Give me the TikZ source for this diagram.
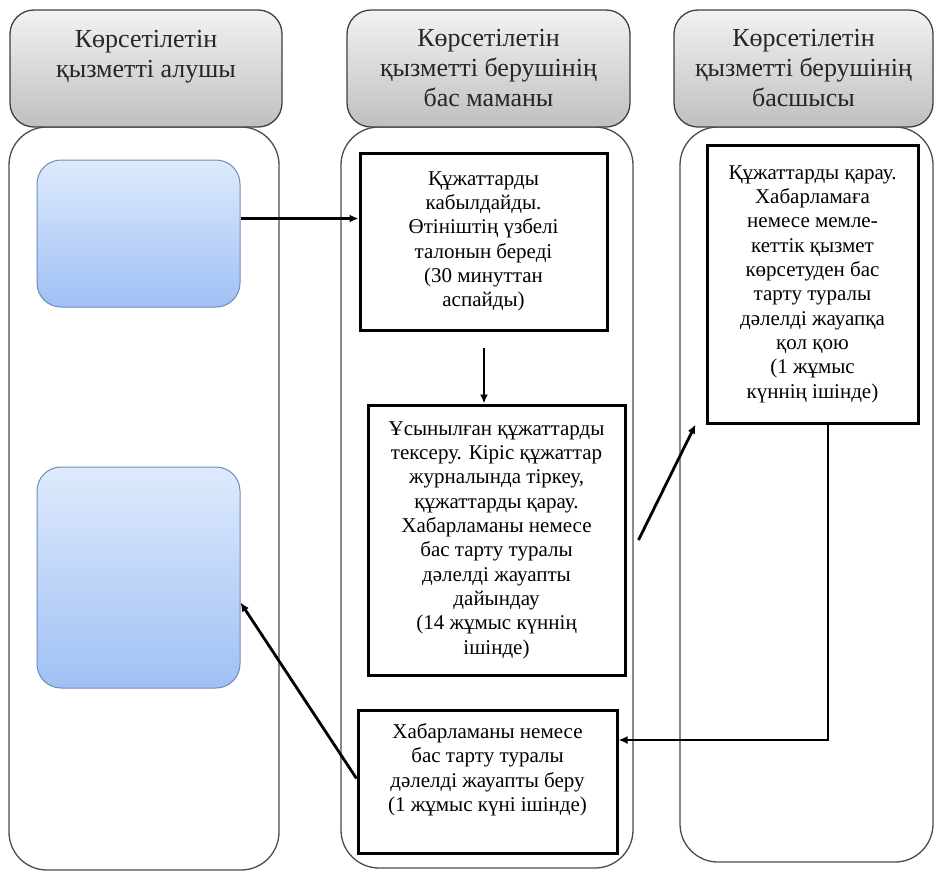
\documentclass[tikz,border=0pt]{standalone}
\usepackage{fontspec}
\setmainfont{Liberation Serif}
\newfontfamily\kzserif{Liberation Serif}
\usetikzlibrary{arrows.meta}
\definecolor{clienttop}{RGB}{222,234,252}
\definecolor{clientbottom}{RGB}{160,192,244}
\definecolor{clientline}{RGB}{110,140,190}
\begin{document}
\begin{tikzpicture}[x=1pt,y=-1pt]
		\tikzstyle{lane}=[rectangle,rounded corners=38pt,draw=black!70,line width=1.3pt,fill=white]
		\tikzstyle{header}=[rectangle,rounded corners=24pt,draw=black!75,line width=1.3pt,top color=black!5,bottom color=black!25,align=center,font=\kzserif\fontsize{26}{30}\selectfont,text=black!85]
		\tikzstyle{step box}=[rectangle,draw=black,line width=3pt,fill=white,align=center,font=\kzserif\fontsize{21}{24.3}\selectfont]
		\tikzstyle{client}=[rectangle,rounded corners=24pt,draw=clientline,line width=1pt,top color=clienttop,bottom color=clientbottom]
		\tikzstyle{edge}=[draw,line width=2.8pt,-{Latex[length=9pt,width=8pt]}]
		\useasboundingbox (0,0) rectangle (936,871);
		% lanes
		\node [lane,minimum width=270pt,minimum height=743pt] (lane1) at (144,498.5) {};
		\node [lane,minimum width=292pt,minimum height=741pt] (lane2) at (487,497.5) {};
		\node [lane,minimum width=253pt,minimum height=735pt] (lane3) at (806.5,494.5) {};
		% headers
		\node [header,minimum width=272pt,minimum height=117pt] (h1) at (146,68.5) {Көрсетілетін\\ қызметті алушы\\ \mbox{}};
		\node [header,minimum width=283pt,minimum height=117pt] (h2) at (488.5,68.5) {Көрсетілетін\\ қызметті берушінің\\ бас маманы};
		\node [header,minimum width=259pt,minimum height=117pt] (h3) at (803.5,68.5) {Көрсетілетін\\ қызметті берушінің\\ басшысы};
		% client
		\node [client,minimum width=203pt,minimum height=147pt] (c1) at (138.5,233.5) {};
		\node [client,minimum width=203pt,minimum height=221pt] (c2) at (138.5,577.5) {};
		% steps
		\node [step box,minimum width=247pt,minimum height=177pt] (s1) at (483.5,241.5) {Құжаттарды\\ кабылдайды.\\ Өтініштің үзбелі\\ талонын береді\\ (30 минуттан\\ аспайды)};
		\node [step box,minimum width=257pt,minimum height=270pt] (s2) at (496.5,540) {Ұсынылған құжаттарды\\ тексеру. Кіріс құжаттар\\ журналында тіркеу,\\ құжаттарды қарау.\\ Хабарламаны немесе\\ бас тарту туралы\\ дәлелді жауапты\\ дайындау\\ (14 жұмыс күннің\\ ішінде)};
		\node [step box,minimum width=259pt,minimum height=143pt] (s3) at (487.5,781.5) {Хабарламаны немесе\\ бас тарту туралы\\ дәлелді жауапты беру\\ (1 жұмыс күні ішінде)\\[4pt]};
		\node [step box,minimum width=211pt,minimum height=278pt] (s4) at (812.5,284) {Құжаттарды қарау.\\ Хабарламаға\\ немесе мемле-\\ кеттік қызмет\\ көрсетуден бас\\ тарту туралы\\ дәлелді жауапқа\\ қол қою\\ (1 жұмыс\\ күннің ішінде)};
		% arrows
		\coordinate (d1) at (484,348);
		\path[edge] ([yshift=15pt]c1.east) -- ([yshift=15pt]c1.east -| s1.west);
		\path[edge] (d1) -- (d1 |- s2.north);
		\path[edge] ([xshift=12pt]s2.east) -- ([xshift=-10pt]s4.south west);
		\path[edge] ([xshift=15.5pt]s4.south) |- ([yshift=41.5pt]s3.east);
		\path[edge] ([yshift=3pt]s3.west) -- ([yshift=-25pt]c2.east);
\end{tikzpicture}
\end{document}
